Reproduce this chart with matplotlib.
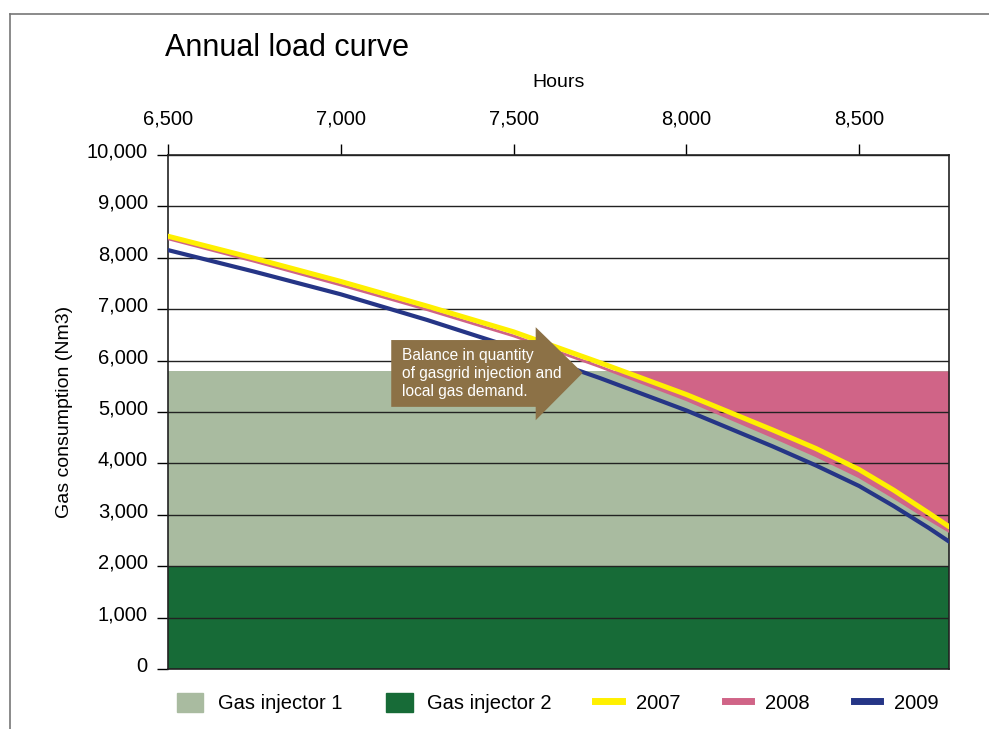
import numpy as np
import matplotlib
matplotlib.use('Agg')
import matplotlib.pyplot as plt
import matplotlib.transforms as mtrans
from matplotlib.patches import Polygon, Patch
from matplotlib.lines import Line2D

plt.rcParams['font.family'] = ['Liberation Sans', 'DejaVu Sans']

hours = [6500, 6750, 7000, 7250, 7500, 7750, 8000, 8250, 8375, 8500, 8600, 8700, 8760]
y2007 = [8420, 7990, 7540, 7060, 6560, 5960, 5340, 4650, 4290, 3880, 3480, 3040, 2770]
y2008 = [8370, 7930, 7470, 6990, 6480, 5880, 5240, 4520, 4150, 3740, 3340, 2920, 2680]
y2009 = [8150, 7730, 7290, 6790, 6250, 5660, 5030, 4330, 3960, 3560, 3170, 2750, 2480]
inj1 = 5800
inj2 = 2000
xticks = [6500, 7000, 7500, 8000, 8500]
yticks = list(range(0, 10001, 1000))

c_inj1 = '#a9bba0'
c_inj2 = '#176b37'
c_07 = '#fff000'
c_08 = '#d06487'
c_09 = '#253586'

fig = plt.figure(figsize=(9.89, 7.29), dpi=100)
ax = fig.add_axes([168/989, 1-669/729, (949-168)/989, (669-155)/729])

x = np.array(hours)
ax.fill_between(x, 0, inj2, color=c_inj2, lw=0, zorder=1)
ax.fill_between(x, inj2, inj1, color=c_inj1, lw=0, zorder=1)
ax.fill_between(x, y2008, inj1, where=np.array(y2008) < inj1, interpolate=True,
                color=c_08, lw=0, zorder=1)

ax.plot(hours, y2009, color=c_09, lw=3.0, zorder=4, solid_joinstyle='round')
ax.plot(hours, y2008, color=c_08, lw=2.0, zorder=5, solid_joinstyle='round')
ax.plot(hours, y2007, color=c_07, lw=3.6, zorder=6, solid_joinstyle='round')

ax.set_xlim(6500, 8760)
ax.set_ylim(0, 10000)
ax.yaxis.grid(True, color='#222222', lw=1.0)
for gl in ax.get_ygridlines():
    gl.set_zorder(2)

ax.xaxis.tick_top()
ax.xaxis.set_label_position('top')
ax.set_xticks(xticks)
ax.set_xticklabels(['{:,}'.format(v) for v in xticks])
ax.set_yticks(yticks)
ax.set_yticklabels(['{:,}'.format(v) for v in yticks])
ax.tick_params(axis='both', direction='out', length=8, width=1, labelsize=14.5)
ax.tick_params(axis='x', pad=11)
ax.tick_params(axis='y', pad=6.5)
off = mtrans.ScaledTranslation(0, 5/100, fig.dpi_scale_trans)
for lab in ax.get_yticklabels():
    lab.set_transform(lab.get_transform() + off)

ax.set_xlabel('Hours', fontsize=14, labelpad=16)
ax.set_ylabel('Gas consumption (Nm3)', fontsize=14, labelpad=10)
for s in ax.spines.values():
    s.set_color('#222222')
    s.set_linewidth(1.2)

# annotation arrow
arrow = Polygon([[7146, 6400], [7564, 6400], [7564, 6650], [7700, 5760],
                 [7564, 4840], [7564, 5100], [7146, 5100]],
                closed=True, color='#8c7146', lw=0, zorder=7)
ax.add_patch(arrow)
ax.text(7178, 5750, 'Balance in quantity\nof gasgrid injection and\nlocal gas demand.',
        color='white', fontsize=11.2, va='center', ha='left', linespacing=1.28, zorder=8)

fig.text(165/989, 1-48/729, 'Annual load curve', fontsize=22, va='center', ha='left')

handles = [Patch(color=c_inj1), Patch(color=c_inj2),
           Line2D([], [], color=c_07, lw=5), Line2D([], [], color=c_08, lw=5),
           Line2D([], [], color=c_09, lw=5)]
labels = ['Gas injector 1', 'Gas injector 2', '2007', '2008', '2009']
fig.legend(handles, labels, loc='center', bbox_to_anchor=(558/989, 1-703/729), ncol=5,
           frameon=False, fontsize=14.5, handlelength=1.3, handleheight=1.1,
           handletextpad=0.7, columnspacing=2.2)

# outer frame
fig.add_artist(Line2D([10/989, 1], [1-14/729, 1-14/729], color='#777777', lw=1.2))
fig.add_artist(Line2D([10/989, 10/989], [0, 1-14/729], color='#777777', lw=1.2))

fig.savefig('out.png', dpi=100)
plt.close()
